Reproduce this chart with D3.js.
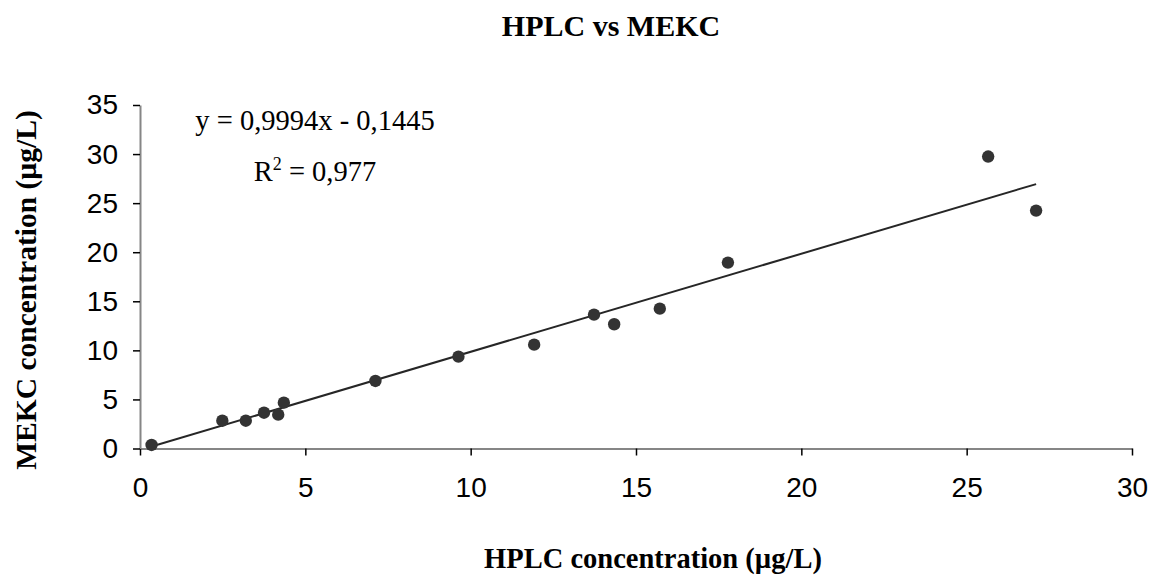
<!DOCTYPE html>
<html>
<head>
<meta charset="utf-8">
<script src="https://cdn.jsdelivr.net/npm/d3@7"></script>
<style>
	body { margin: 0; background: #fff; }
</style>
</head>
<body>
<div id="chartContainer"></div>
<script>
let hplcValues = [0.35, 2.49, 3.2, 3.75, 4.18, 4.35, 7.12, 9.63, 11.92, 13.73, 14.34, 15.72, 17.78, 25.65, 27.1];
let mekcValues = [0.36, 2.83, 2.83, 3.65, 3.45, 4.67, 6.88, 9.36, 10.58, 13.64, 12.66, 14.25, 18.94, 29.75, 24.24];
let xTicks = [0, 5, 10, 15, 20, 25, 30];
let yTicks = [0, 5, 10, 15, 20, 25, 30, 35];
let trendSlope = 0.9994;
let trendIntercept = -0.1445;

function initializeChart(){

	let svg = d3.select("#chartContainer")
		.append("svg")
		.attr("width", 1155)
		.attr("height", 580);

	let xScale = d3.scaleLinear()
		.domain([0, 30])
		.range([140, 1132]);

	let yScale = d3.scaleLinear()
		.domain([0, 35])
		.range([448.5, 105]);

	// axes
	let xAxis = svg.append("g")
		.attr("transform", "translate(0, 448.5)")
		.call(d3.axisBottom(xScale).tickValues(xTicks).tickSize(7).tickPadding(22).tickSizeOuter(0));

	let yAxis = svg.append("g")
		.attr("transform", "translate(140, 0)")
		.call(d3.axisLeft(yScale).tickValues(yTicks).tickSize(7).tickPadding(15).tickSizeOuter(0));

	[xAxis, yAxis].forEach(function(a){
		a.select(".domain").attr("stroke", "#868686").attr("stroke-width", 2);
		a.selectAll(".tick line").attr("stroke", "#000").attr("stroke-width", 1.5);
		a.selectAll(".tick text")
			.attr("fill", "#000")
			.style("font-family", "Arial, 'Liberation Sans', sans-serif")
			.style("font-size", "28px");
	});

	// trend line
	let xMin = d3.min(hplcValues);
	let xMax = d3.max(hplcValues);
	svg.append("line")
		.attr("x1", xScale(xMin))
		.attr("y1", yScale(trendSlope * xMin + trendIntercept))
		.attr("x2", xScale(xMax))
		.attr("y2", yScale(trendSlope * xMax + trendIntercept))
		.attr("stroke", "#262626")
		.attr("stroke-width", 2);

	// points
	svg.append("g")
		.selectAll("circle")
		.data(hplcValues)
		.enter()
		.append("circle")
		.attr("cx", function(d){ return xScale(d); })
		.attr("cy", function(d, i){ return yScale(mekcValues[i]); })
		.attr("r", 6.2)
		.attr("fill", "#333");

	// titles
	let serif = "'Times New Roman', 'Liberation Serif', serif";

	svg.append("text")
		.attr("x", 611)
		.attr("y", 36)
		.attr("text-anchor", "middle")
		.style("font-family", serif)
		.style("font-weight", "bold")
		.style("font-size", "30px")
		.text("HPLC vs MEKC");

	svg.append("text")
		.attr("x", 653)
		.attr("y", 568)
		.attr("text-anchor", "middle")
		.style("font-family", serif)
		.style("font-weight", "bold")
		.style("font-size", "28.5px")
		.text("HPLC concentration (µg/L)");

	svg.append("text")
		.attr("transform", "translate(36, 290) rotate(-90)")
		.attr("text-anchor", "middle")
		.style("font-family", serif)
		.style("font-weight", "bold")
		.style("font-size", "29.5px")
		.text("MEKC concentration (µg/L)");

	// equation
	svg.append("text")
		.attr("x", 315)
		.attr("y", 130)
		.attr("text-anchor", "middle")
		.style("font-family", serif)
		.style("font-size", "28.5px")
		.text("y = 0,9994x - 0,1445");

	let r2 = svg.append("text")
		.attr("x", 315)
		.attr("y", 181)
		.attr("text-anchor", "middle")
		.style("font-family", serif)
		.style("font-size", "28.5px");
	r2.append("tspan").text("R");
	r2.append("tspan").attr("dy", -11).style("font-size", "18px").text("2");
	r2.append("tspan").attr("dy", 11).text(" = 0,977");
}

initializeChart();
</script>
</body>
</html>
